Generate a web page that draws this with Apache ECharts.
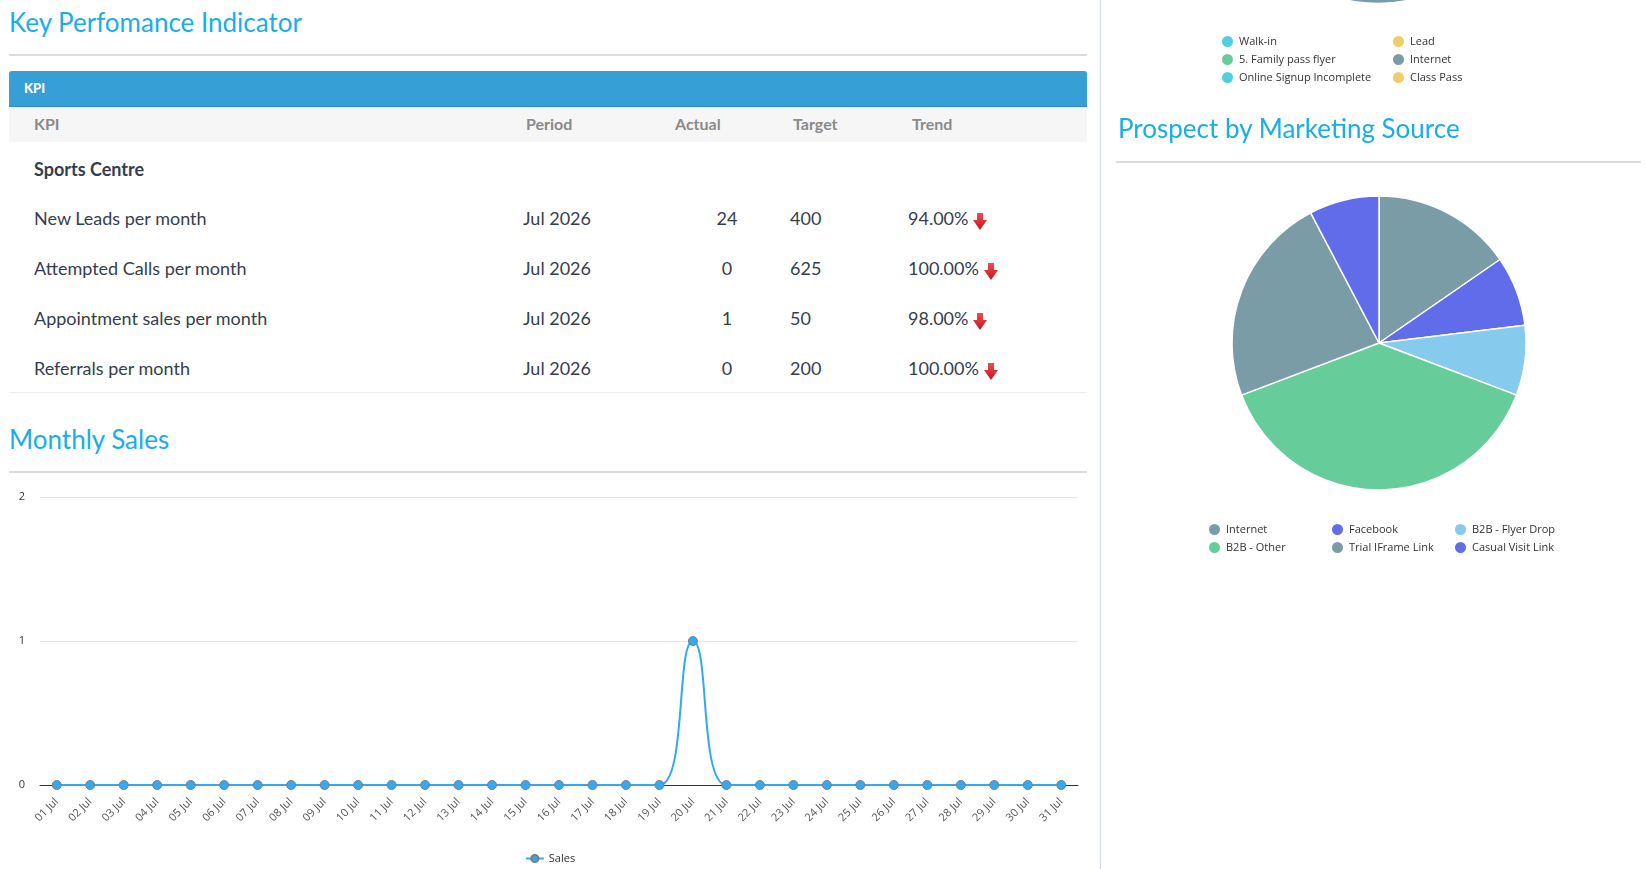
<!DOCTYPE html>
<html>
<head>
<meta charset="utf-8">
<title>Dashboard</title>
<script src="https://cdn.jsdelivr.net/npm/echarts@6.0.0/dist/echarts.min.js"></script>
<style>
  html, body { margin: 0; padding: 0; background: #fff; }
  body {
    width: 1646px; height: 869px; overflow: hidden; position: relative;
    font-family: Lato, "Open Sans", sans-serif; color: #363e4c;
  }
  .title { position: absolute; font-size: 26px; line-height: 26px; color: #1aaee5; white-space: nowrap; }
  .rule { position: absolute; height: 0; border-top: 2px solid #dcdcdc; }
  .rule.light { border-top: 1px solid #ececec; }
  .cell { position: absolute; white-space: nowrap; }
  #kpiBar {
    position: absolute; left: 9px; top: 71px; width: 1078px; height: 35px;
    background: #36a0d6; border-bottom: 1px solid #2a8cc2; border-radius: 3px 3px 0 0;
  }
  #kpiBar span { position: absolute; left: 15px; top: 0; line-height: 35px; font-size: 13px; font-weight: 900; color: #fff; }
  #kpiHead { position: absolute; left: 9px; top: 107px; width: 1078px; height: 35px; background: #f6f6f6; }
  .head { font-size: 16px; font-weight: 700; color: #8a8a8a; height: 34px; line-height: 34px; top: 0; }
  .row { font-size: 18px; height: 20px; line-height: 20px; }
  .arrow { display: inline-block; vertical-align: -5px; margin-left: 5px; }
  #divider { position: absolute; left: 1100px; top: 0; width: 1px; height: 869px; background: #d7dce6; box-shadow: -1px 0 2px #e8ebf2; }
  #sales { position: absolute; left: 0; top: 480px; width: 1100px; height: 389px; }
  #pies { position: absolute; left: 1102px; top: 0; width: 544px; height: 869px; }
</style>
</head>
<body>
<div class="title" style="left:9px;top:9px">Key Perfomance Indicator</div>
<div class="rule" style="left:9px;top:54px;width:1078px"></div>

<div id="kpiBar"><span>KPI</span></div>
<div id="kpiHead"></div>
<div id="kpiRows"></div>
<div class="rule light" style="left:9px;top:392px;width:1078px"></div>

<div class="title" style="left:9px;top:426px">Monthly Sales</div>
<div class="rule" style="left:9px;top:471px;width:1078px"></div>
<div id="sales"></div>

<div id="divider"></div>
<div id="pies"></div>
<div class="title" style="left:1118px;top:115px">Prospect by Marketing Source</div>
<div class="rule" style="left:1116px;top:161px;width:525px"></div>

<script>
// KPI table
const kpiColumns = ["KPI", "Period", "Actual", "Target", "Trend"];
const kpiGroup = "Sports Centre";
const kpiNames = ["New Leads per month", "Attempted Calls per month", "Appointment sales per month", "Referrals per month"];
const kpiPeriods = ["Jul 2026", "Jul 2026", "Jul 2026", "Jul 2026"];
const kpiActual = [24, 0, 1, 0];
const kpiTarget = [400, 625, 50, 200];
const kpiTrend = ["94.00%", "100.00%", "98.00%", "100.00%"];

// Monthly sales
const dayLabels = ["01 Jul", "02 Jul", "03 Jul", "04 Jul", "05 Jul", "06 Jul", "07 Jul", "08 Jul",
  "09 Jul", "10 Jul", "11 Jul", "12 Jul", "13 Jul", "14 Jul", "15 Jul", "16 Jul", "17 Jul",
  "18 Jul", "19 Jul", "20 Jul", "21 Jul", "22 Jul", "23 Jul", "24 Jul", "25 Jul", "26 Jul",
  "27 Jul", "28 Jul", "29 Jul", "30 Jul", "31 Jul"];
const salesValues = [0, 0, 0, 0, 0, 0, 0, 0, 0, 0, 0, 0, 0, 0, 0, 0, 0, 0, 0, 1, 0, 0, 0, 0, 0, 0, 0, 0, 0, 0, 0];

// Lead source pie (scrolled mostly out of view)
const leadSources = ["Walk-in", "Lead", "5. Family pass flyer", "Internet", "Online Signup Incomplete", "Class Pass"];
const leadCounts = [2, 1, 1, 4, 1, 1];
const leadColors = ["#4fd0df", "#efcd6a", "#66cc9a", "#7a9ca6", "#4fd0df", "#efcd6a"];

// Prospect by marketing source
const marketingSources = ["Internet", "Facebook", "B2B - Flyer Drop", "B2B - Other", "Trial IFrame Link", "Casual Visit Link"];
const marketingCounts = [2, 1, 1, 5, 3, 1];
const marketingColors = ["#7a9ca6", "#616ceb", "#86caee", "#66cc9a", "#7a9ca6", "#616ceb"];

// column x positions (relative to page)
const colX = { name: 34, period: 523, actualHead: 675, actualMid: 727, target: 790, trend: 908 };
const rowTops = [218, 268, 318, 368];

function buildTable() {
  const head = document.getElementById("kpiHead");
  const headX = [colX.name, 526, colX.actualHead, 793, 912];
  kpiColumns.forEach((c, i) => {
    const s = document.createElement("div");
    s.className = "cell head";
    s.style.left = (headX[i] - 9) + "px";
    s.textContent = c;
    head.appendChild(s);
  });

  const rows = document.getElementById("kpiRows");
  const grp = document.createElement("div");
  grp.className = "cell row";
  grp.style.cssText = "left:" + colX.name + "px;top:159px;font-weight:700;";
  grp.textContent = kpiGroup;
  rows.appendChild(grp);

  const arrowSvg = '<svg class="arrow" width="14" height="17" viewBox="0 0 14 17">' +
    '<defs><linearGradient id="ag" x1="0" y1="0" x2="0" y2="1">' +
    '<stop offset="0" stop-color="#ee4d50"/><stop offset="1" stop-color="#c4161c"/></linearGradient></defs>' +
    '<path d="M4 0 H10 V7 H14 L7 17 L0 7 H4 Z" fill="url(#ag)"/></svg>';

  kpiNames.forEach((name, i) => {
    const top = rowTops[i] - 10;
    const add = (html, style) => {
      const d = document.createElement("div");
      d.className = "cell row";
      d.style.cssText = style + "top:" + top + "px;";
      d.innerHTML = html;
      rows.appendChild(d);
    };
    add(name, "left:" + colX.name + "px;");
    add(kpiPeriods[i], "left:" + colX.period + "px;");
    add(String(kpiActual[i]), "left:" + (colX.actualMid - 30) + "px;width:60px;text-align:center;");
    add(String(kpiTarget[i]), "left:" + colX.target + "px;");
    add(kpiTrend[i] + arrowSvg, "left:" + colX.trend + "px;");
  });
}
buildTable();

const chartFont = '"Open Sans", sans-serif';

const salesChart = echarts.init(document.getElementById("sales"));
salesChart.setOption({
  animation: false,
  textStyle: { fontFamily: chartFont },
  grid: { left: 40, right: 22, top: 17, bottom: 84 },
  legend: {
    data: ["Sales"], left: "center", top: 368,
    itemWidth: 18, itemHeight: 9,
    textStyle: { fontSize: 11, color: "#333" }
  },
  xAxis: {
    type: "category", data: dayLabels, boundaryGap: true,
    axisLine: { lineStyle: { color: "#333", width: 1 } },
    axisTick: { show: false },
    axisLabel: { rotate: 45, interval: 0, fontSize: 11, color: "#555", margin: 15 }
  },
  yAxis: {
    type: "value", min: 0, max: 2, interval: 1,
    axisLine: { show: false }, axisTick: { show: false },
    axisLabel: { fontSize: 11, color: "#333", margin: 15 },
    splitLine: { lineStyle: { color: "#e6e6e6" } }
  },
  series: [{
    name: "Sales", type: "line", data: salesValues, smooth: true,
    symbol: "circle", symbolSize: 9, showSymbol: true,
    lineStyle: { color: "#33a9f4", width: 2 },
    itemStyle: { color: "#33a9f4", borderColor: "#7d7d7d", borderWidth: 1 }
  }]
});

const pieChart = echarts.init(document.getElementById("pies"));
const pieLeft = 1102;
pieChart.setOption({
  animation: false,
  textStyle: { fontFamily: chartFont },
  legend: [{
    data: leadSources, left: 1220 - pieLeft, top: 34, width: 345, padding: 0,
    icon: "circle", itemWidth: 13, itemHeight: 13, itemGap: 3,
    textStyle: { fontSize: 11, color: "#333", width: 149, lineHeight: 14, overflow: "truncate" }
  }, {
    data: marketingSources, left: 1207 - pieLeft, top: 522, width: 370, padding: 0,
    icon: "circle", itemWidth: 13, itemHeight: 13, itemGap: 3,
    textStyle: { fontSize: 11, color: "#333", width: 101, lineHeight: 14, overflow: "truncate" }
  }],
  series: [{
    name: "Lead Source", type: "pie", radius: 147, center: [1378 - pieLeft, -143.5],
    startAngle: 90, clockwise: true, label: { show: false }, labelLine: { show: false },
    itemStyle: { borderColor: "#fff", borderWidth: 1.5 },
    data: leadSources.map((n, i) => ({ name: n, value: leadCounts[i], itemStyle: { color: leadColors[i] } }))
  }, {
    name: "Prospect by Marketing Source", type: "pie", radius: 147, center: [1379 - pieLeft, 343],
    startAngle: 90, clockwise: true, label: { show: false }, labelLine: { show: false },
    itemStyle: { borderColor: "#fff", borderWidth: 1.5 },
    data: marketingSources.map((n, i) => ({ name: n, value: marketingCounts[i], itemStyle: { color: marketingColors[i] } }))
  }]
});
</script>
</body>
</html>
